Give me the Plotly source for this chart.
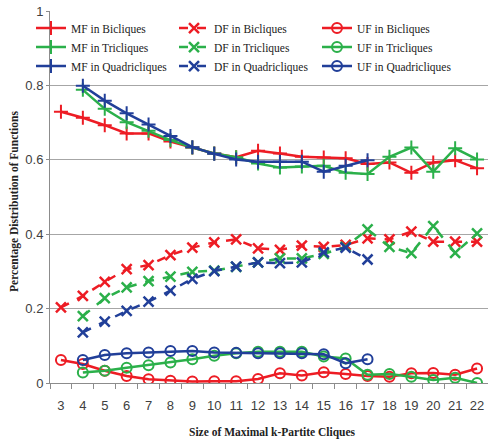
import plotly.graph_objects as go

# Clique sizes (x categories)
sizes = list(range(3, 23))

# MF (+ markers, solid)
mf_bi = [0.729, 0.713, 0.693, 0.671, 0.671, 0.649, 0.633, 0.617, 0.607, 0.624,
         0.617, 0.608, 0.606, 0.604, 0.589, 0.593, 0.565, 0.593, 0.599, 0.577]
mf_tri = [None, 0.788, 0.737, 0.701, 0.678, 0.653, 0.633, 0.617, 0.607, 0.590,
          0.579, 0.582, 0.584, 0.565, 0.562, 0.608, 0.633, 0.568, 0.631, 0.601]
mf_quad = [None, 0.799, 0.759, 0.725, 0.695, 0.664, 0.634, 0.616, 0.601, 0.595,
           0.595, 0.595, 0.568, 0.584, 0.599]

# DF (x markers, dashed)
df_bi = [0.203, 0.234, 0.272, 0.306, 0.317, 0.344, 0.364, 0.378, 0.386, 0.362,
         0.358, 0.369, 0.366, 0.371, 0.389, 0.386, 0.407, 0.380, 0.380, 0.380]
df_tri = [None, 0.180, 0.228, 0.257, 0.274, 0.286, 0.299, 0.302, 0.312, 0.324,
          0.335, 0.335, 0.347, 0.366, 0.413, 0.366, 0.349, 0.422, 0.350, 0.402]
df_quad = [None, 0.136, 0.165, 0.194, 0.219, 0.248, 0.280, 0.301, 0.313, 0.324,
           0.322, 0.324, 0.351, 0.364, 0.332]

# UF (o markers, solid)
uf_bi = [0.062, 0.051, 0.033, 0.019, 0.010, 0.006, 0.004, 0.005, 0.005, 0.011,
         0.026, 0.020, 0.029, 0.024, 0.019, 0.017, 0.026, 0.027, 0.022, 0.039]
uf_tri = [None, 0.028, 0.033, 0.041, 0.048, 0.055, 0.064, 0.073, 0.080, 0.084,
          0.084, 0.084, 0.071, 0.066, 0.022, 0.024, 0.017, 0.008, 0.014, 0.000]
uf_quad = [None, 0.062, 0.075, 0.080, 0.082, 0.086, 0.086, 0.082, 0.081, 0.080,
           0.080, 0.080, 0.077, 0.053, 0.064]

RED = "#ED1C24"
GREEN = "#2BB04A"
BLUE = "#213F99"

y_ticks = [0, 0.2, 0.4, 0.6, 0.8, 1]
y_tick_text = ["0", "0.2", "0.4", "0.6", "0.8", "1"]

W, H = 488, 444
ML, MR, MT, MB = 31, 0, 11, 61
plot_w = W - ML - MR
axis_left_px = 50


def series(name, ys, color, kind):
    x = sizes[:len(ys)]
    if kind == "MF":
        marker = dict(symbol="cross-thin", size=10, color=color,
                      line=dict(color=color, width=2))
        line = dict(color=color, width=2.5)
    elif kind == "DF":
        marker = dict(symbol="x-thin", size=10, color=color,
                      line=dict(color=color, width=2.5))
        line = dict(color=color, width=2.5, dash="dash")
    else:
        marker = dict(symbol="circle-open", size=10, color=color,
                      line=dict(color=color, width=2))
        line = dict(color=color, width=2.5)
    return go.Scatter(x=x, y=ys, name=name, mode="lines+markers",
                      line=line, marker=marker, connectgaps=False)


fig = go.Figure()
# row-wise legend order: MF / DF / UF for each clique type
fig.add_trace(series("MF in Bicliques", mf_bi, RED, "MF"))
fig.add_trace(series("DF in Bicliques", df_bi, RED, "DF"))
fig.add_trace(series("UF in Bicliques", uf_bi, RED, "UF"))
fig.add_trace(series("MF in Tricliques", mf_tri, GREEN, "MF"))
fig.add_trace(series("DF in Tricliques", df_tri, GREEN, "DF"))
fig.add_trace(series("UF in Tricliques", uf_tri, GREEN, "UF"))
fig.add_trace(series("MF in Quadricliques", mf_quad, BLUE, "MF"))
fig.add_trace(series("DF in Quadricliques", df_quad, BLUE, "DF"))
fig.add_trace(series("UF in Quadricliques", uf_quad, BLUE, "UF"))

tick_font = dict(family="Liberation Sans Narrow, Arial Narrow, Liberation Sans",
                 size=13, color="#404040")
title_font = dict(family="Liberation Serif, Times New Roman, serif",
                  size=11.5, color="#222222")

fig.update_layout(
    width=W, height=H,
    margin=dict(l=ML, r=MR, t=MT, b=MB),
    paper_bgcolor="white", plot_bgcolor="white",
    showlegend=True,
    legend=dict(
        orientation="h", x=0, y=0.993, xanchor="left", yanchor="top",
        entrywidth=98, entrywidthmode="pixels",
        bgcolor="rgba(0,0,0,0)",
        font=dict(family="Liberation Serif, Times New Roman, serif",
                  size=11.5, color="#222222"),
    ),
    xaxis=dict(
        domain=[(axis_left_px - ML) / plot_w, 1],
        range=[2.5, 22.5],
        tickmode="array", tickvals=sizes, ticktext=[str(s) for s in sizes],
        ticks="", showgrid=False, zeroline=False,
        showline=True, linecolor="#8c8c8c", linewidth=1,
        tickfont=tick_font, ticklabelstandoff=10,
        minor=dict(tickvals=[s + 0.5 for s in [2] + sizes], ticks="outside",
                   ticklen=5, tickcolor="#8c8c8c", showgrid=False),
    ),
    yaxis=dict(
        range=[0, 1],
        tickmode="array", tickvals=y_ticks, ticktext=y_tick_text,
        ticks="outside", ticklen=3, tickcolor="#8c8c8c",
        showgrid=True, gridcolor="#a6a6a6", gridwidth=1,
        zeroline=False, showline=True, linecolor="#8c8c8c", linewidth=1,
        tickfont=tick_font,
    ),
    annotations=[
        dict(text="<b>Size of Maximal k-Partite Cliques</b>",
             xref="paper", yref="paper",
             x=(272 - ML) / plot_w, y=-(432 - (H - MB)) / (H - MT - MB),
             xanchor="center", yanchor="middle", showarrow=False,
             font=title_font),
        dict(text="<b>Percentage Distribution of Functions</b>",
             xref="paper", yref="paper",
             x=(14 - ML) / plot_w, y=((H - MB) - 202) / (H - MT - MB),
             xanchor="center", yanchor="middle", showarrow=False,
             textangle=-90, font=title_font),
    ],
)

fig.write_html("out.html")
